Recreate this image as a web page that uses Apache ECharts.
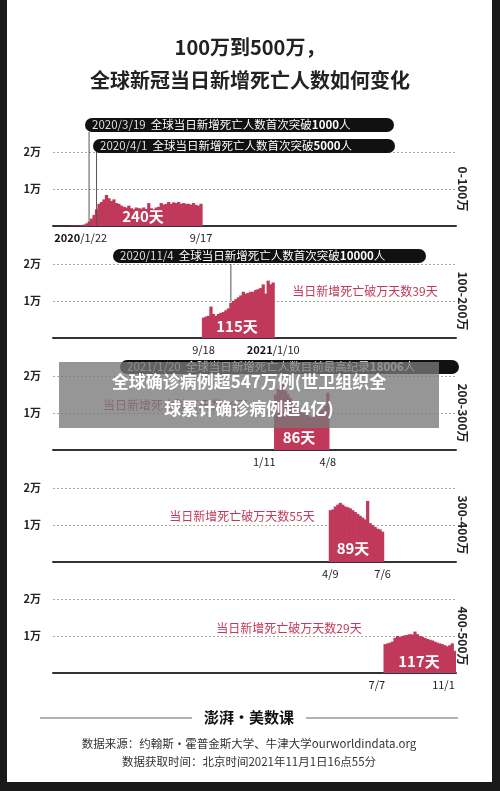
<!DOCTYPE html>
<html><head><meta charset="utf-8">
<script src="https://cdn.jsdelivr.net/npm/echarts@6/dist/echarts.min.js"></script>
<style>html,body{margin:0;padding:0;background:#1a1a1a;}#c{width:500px;height:791px;}</style>
</head><body><div id="c"></div>
<script>
// values in 万 (10,000 deaths/day), one value per ~4-day bucket
const p1 = [0,0,0,0,0,0,0,0.01,0.01,0.01,0.01,0.02,0.04,0.07,0.12,0.2,0.3,0.45,0.6,0.65,0.72,0.84,0.75,0.68,0.72,0.62,0.6,0.55,0.52,0.5,0.55,0.48,0.45,0.5,0.48,0.47,0.5,0.46,0.62,0.48,0.45,0.5,0.52,0.62,0.58,0.6,0.65,0.6,0.64,0.62,0.65,0.6,0.62,0.6,0.6,0.58,0.62,0.57,0.55,0.6];
const p2 = [0.55,0.58,0.6,0.85,0.65,0.6,0.65,0.68,0.7,0.75,0.8,0.95,1.0,1.05,1.1,1.15,1.25,1.2,1.22,1.25,1.25,1.3,1.32,1.35,1.45,1.2,1.55,1.45,1.5];
const p3 = [1.5,1.65,1.75,1.8,1.6,1.5,1.4,1.3,1.2,1.1,1.05,1.0,0.95,0.95,0.9,0.9,0.95,1.0,1.05,1.1,1.2,1.55];
const p4 = [1.4,1.42,1.5,1.55,1.6,1.55,1.5,1.48,1.45,1.4,1.35,1.3,1.25,1.2,1.15,1.65,1.05,1.0,0.95,0.9,0.88,0.82];
const p5 = [0.78,0.8,0.82,0.85,0.95,1.0,0.98,1.0,1.02,1.03,1.05,1.04,1.12,1.05,1.0,0.98,0.95,0.92,0.9,0.88,0.85,0.82,0.8,0.78,0.75,0.72,0.75,0.8,0.6];
const panels = [p1,p2,p3,p4,p5];
const dayCounts = ['240天','115天','86天','89天','117天'];
const rangeLabels = ['0-100万','100-200万','200-300万','300-400万','400-500万'];
const tickLabels = [
  [[0,'{b|2020}/1/22','left'],[59,'9/17','center']],
  [[60,'9/18','center'],[88,'{b|2021}/1/10','center']],
  [[89,'1/11','right'],[110,'4/8','center']],
  [[111,'4/9','center'],[132,'7/6','center']],
  [[133,'7/7','right'],[161,'11/1','right']]
];
const breakLabels = ['','当日新增死亡破万天数39天','当日新增死亡破万天数86天','当日新增死亡破万天数55天','当日新增死亡破万天数29天'];
const yTicks = ['','1万','2万'];
// annotation lines: [panel, bucket index, from value, to value]
const markers = [[0,14,0,2.54],[0,17,0,2.0],[1,71,1.0,2.0]];

const total = panels.reduce((s,p)=>s+p.length,0);
const tops = [152,264,376,488,599];
const H = 74, L = 53, R = 44;
const RED = '#c0395a';
const chart = echarts.init(document.getElementById('c'));
const grids=[],xAxes=[],yAxes=[],series=[],graphics=[];
graphics.push({type:'rect',shape:{x:7,y:0,width:485,height:782},style:{fill:'#fff'},z:-10});
graphics.push({type:'text',x:250,y:47,style:{text:'100万到500万，',font:'bold 20px "Noto Sans CJK SC"',fill:'#222',align:'center',verticalAlign:'middle'}});
graphics.push({type:'text',x:250,y:80,style:{text:'全球新冠当日新增死亡人数如何变化',font:'bold 20px "Noto Sans CJK SC"',fill:'#222',align:'center',verticalAlign:'middle'}});
let off=0;
const labelPos=[[143,216],[237,326],[299,437],[353,548],[419,661]];
const breakPos=[[0,0,'center'],[365,291,'center'],[103,405,'left'],[242,516,'center'],[289,628,'center']];
panels.forEach((p,i)=>{
  grids.push({left:L,right:R,top:tops[i],height:H});
  const cats=[];
  for(let k=0;k<total;k++) cats.push({value:''});
  tickLabels[i].forEach(([k,t,a])=>{cats[k]={value:t,textStyle:{align:a}};});
  xAxes.push({type:'category',gridIndex:i,data:cats,axisTick:{show:false},
    axisLine:{lineStyle:{color:'#333',width:2}},
    axisLabel:{interval:0,fontSize:11,color:'#222',margin:6,fontFamily:'Noto Sans CJK SC',rich:{b:{fontWeight:'bold',fontSize:11,color:'#111'}}}});
  yAxes.push({type:'value',gridIndex:i,min:0,max:2,interval:1,
    axisLabel:{formatter:(v)=>yTicks[v],fontSize:11,fontWeight:'bold',color:'#222',margin:12,fontFamily:'Noto Sans CJK SC'},
    splitLine:{lineStyle:{type:[2,2],color:'#aaa'}},axisLine:{show:false},axisTick:{show:false}});
  const d=[];for(let k=0;k<total;k++)d.push(null);
  p.forEach((v,k)=>d[off+k]=v);
  series.push({type:'bar',xAxisIndex:i,yAxisIndex:i,data:d,barWidth:'130%',itemStyle:{color:RED},silent:true});
  off+=p.length;
  graphics.push({type:'text',x:labelPos[i][0],y:labelPos[i][1],style:{text:dayCounts[i],font:'bold 15px "Noto Sans CJK SC"',fill:'#fff',align:'center',verticalAlign:'middle'},z:10});
  graphics.push({type:'text',x:463,y:tops[i]+H/2,rotation:-Math.PI/2,style:{text:rangeLabels[i],font:'bold 12px "Noto Sans CJK SC"',fill:'#222',align:'center',verticalAlign:'middle'}});
  if(breakLabels[i]) graphics.push({type:'text',x:breakPos[i][0],y:breakPos[i][1],style:{text:breakLabels[i],font:'12px "Noto Sans CJK SC"',fill:RED,align:breakPos[i][2],verticalAlign:'middle'}});
});
function pill(x,y,w,date,rest){
  graphics.push({type:'rect',shape:{x:x,y:y,width:w,height:14,r:7},style:{fill:'#111'},z:5});
  graphics.push({type:'text',x:x+7,y:y+7,z:6,style:{text:'{d|'+date+'}  '+rest,verticalAlign:'middle',fill:'#fff',font:'11.5px "Noto Sans CJK SC"',
    rich:{d:{fill:'#ddd',font:'11.5px "Noto Sans CJK SC"'},n:{fill:'#fff',font:'bold 11.5px "Noto Sans CJK SC"'}}}});
}
pill(85,118,309,'2020/3/19','全球当日新增死亡人数首次突破{n|1000}人');
pill(93,139,302,'2020/4/1','全球当日新增死亡人数首次突破{n|5000}人');
pill(113,249,313,'2020/11/4','全球当日新增死亡人数首次突破{n|10000}人');
pill(120,360,339,'2021/1/20','全球当日新增死亡人数目前最高纪录{n|18006}人');
// overlay banner
graphics.push({type:'rect',shape:{x:59,y:362,width:380,height:66},style:{fill:'rgba(120,120,120,0.78)'},z:50});
graphics.push({type:'text',x:249,y:382,z:51,style:{text:'全球确诊病例超547万例(世卫组织全',font:'bold 17px "Noto Sans CJK SC"',fill:'#fff',align:'center',verticalAlign:'middle'}});
graphics.push({type:'text',x:249,y:409,z:51,style:{text:'球累计确诊病例超4亿)',font:'bold 17px "Noto Sans CJK SC"',fill:'#fff',align:'center',verticalAlign:'middle'}});
// footer
graphics.push({type:'line',shape:{x1:40,y1:718,x2:192,y2:718},style:{stroke:'#666',lineWidth:1}});
graphics.push({type:'line',shape:{x1:306,y1:718,x2:458,y2:718},style:{stroke:'#666',lineWidth:1}});
graphics.push({type:'text',x:249,y:717,style:{text:'澎湃·美数课',font:'bold 15px "Noto Sans CJK SC"',fill:'#111',align:'center',verticalAlign:'middle'}});
graphics.push({type:'text',x:249,y:744,style:{text:'数据来源：约翰斯·霍普金斯大学、牛津大学ourworldindata.org',font:'11.5px "Noto Sans CJK SC"',fill:'#333',align:'center',verticalAlign:'middle'}});
graphics.push({type:'text',x:249,y:762,style:{text:'数据获取时间：北京时间2021年11月1日16点55分',font:'11.5px "Noto Sans CJK SC"',fill:'#333',align:'center',verticalAlign:'middle'}});
chart.setOption({animation:false,grid:grids,xAxis:xAxes,yAxis:yAxes,series:series,graphic:graphics});
// annotation lines placed through the axes' scales
const extra = markers.map(([g,k,v0,v1])=>{
  const a=chart.convertToPixel({gridIndex:g},[k,v0]);
  const b=chart.convertToPixel({gridIndex:g},[k,v1]);
  return {type:'line',shape:{x1:a[0],y1:a[1],x2:b[0],y2:b[1]},style:{stroke:'#555',lineWidth:1},z:4};
});
chart.setOption({graphic:graphics.concat(extra)});
</script></body></html>
